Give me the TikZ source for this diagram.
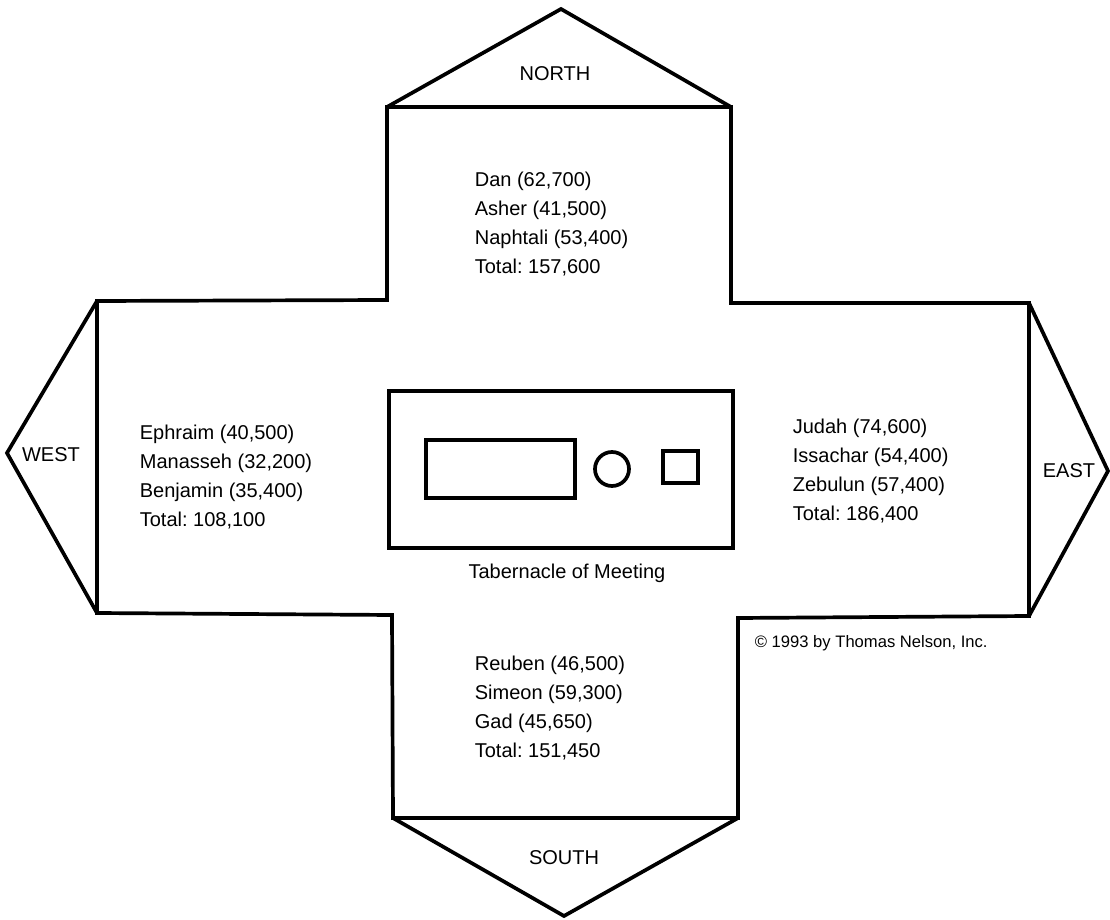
\documentclass[tikz,border=0pt]{standalone}
\usepackage{fontspec}
\setmainfont{Liberation Sans}
\frenchspacing

\tikzset{every picture/.style={line width=1.85pt}}
\tikzset{
  tribes/.style={anchor=north west, inner sep=0pt, align=left, font=\fontsize{10}{14.5}\selectfont},
  side/.style={inner sep=0pt, font=\fontsize{10}{12}\selectfont}
}

\begin{document}
\begin{tikzpicture}[x=0.5pt, y=-0.5pt]
        \useasboundingbox (0,0) rectangle (1110,920);
        % the camp
        \draw[line join=miter] (387,107) -- (731,107) -- (731,303) -- (1029,303) -- (1029,616) -- (738,618) -- (738,818) -- (393,818) -- (392,615) -- (97,613) -- (97,301) -- (387,300) -- cycle;
        \draw (387,107) -- (561,9) -- (731,107);
        \draw (393,818) -- (564,916) -- (738,818);
        \draw (97,301) -- (7,453) -- (97,613);
        \draw (1029,303) -- (1108,471) -- (1029,616);
        % tabernacle
        \draw (389,391) rectangle (733,548);
        \draw (426,440) rectangle (575,498);
        \draw (612,469) circle (8.5pt);
        \draw (663,451) rectangle (698,483);
        \node[side] (north) at (555,74) {NORTH};
        \node[side] (south) at (564,858) {SOUTH};
        \node[side] (west) at (51,455) {WEST};
        \node[side] (east) at (1069,471) {EAST};
        \node[tribes] (dan) at (473,170) {Dan (62,700)\\Asher (41,500)\\Naphtali (53,400)\\Total: 157,600};
        \node[tribes] (ephraim) at (138,423) {Ephraim (40,500)\\Manasseh (32,200)\\Benjamin (35,400)\\Total: 108,100};
        \node[tribes] (judah) at (791,417) {Judah (74,600)\\Issachar (54,400)\\Zebulun (57,400)\\Total: 186,400};
        \node[tribes] (reuben) at (473,654) {Reuben (46,500)\\Simeon (59,300)\\Gad (45,650)\\Total: 151,450};
        \node[side] (tent) at (567,573) {Tabernacle of Meeting};
        \node[inner sep=0pt, anchor=west, font=\fontsize{8.3}{10}\selectfont] (copy) at (753,643) {\textcopyright\ 1993 by Thomas Nelson, Inc.};
\end{tikzpicture}
\end{document}
